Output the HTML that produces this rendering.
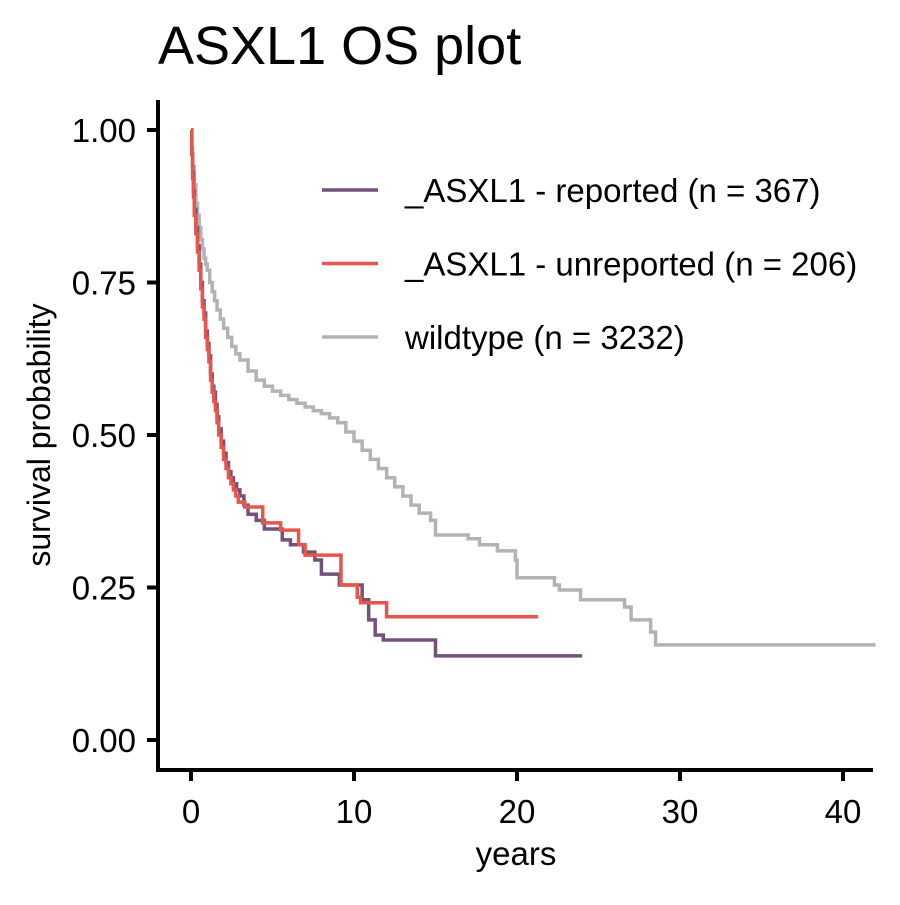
<!DOCTYPE html>
<html><head><meta charset="utf-8"><style>
body{margin:0;background:#fff}
svg text{font-family:"Liberation Sans",Arial,sans-serif}
</style></head><body>
<svg id="chart" width="900" height="900" xmlns="http://www.w3.org/2000/svg">
<rect width="900" height="900" fill="#fff"/>
<text x="158" y="64" font-size="54" fill="#000">ASXL1 OS plot</text>
<g id="axes"></g>
<g id="series"></g>
<g id="legend"></g>
</svg>
<script>
const xTicks=[0,10,20,30,40];
const yTicks=[0,0.25,0.5,0.75,1];
const yTickLabels=["0.00","0.25","0.50","0.75","1.00"];
const seriesNames=["_ASXL1 - reported (n = 367)","_ASXL1 - unreported (n = 206)","wildtype (n = 3232)"];
const reportedT=[0,0.05,0.1,0.15,0.2,0.3,0.4,0.5,0.6,0.7,0.8,0.9,1.0,1.1,1.2,1.3,1.4,1.5,1.6,1.7,1.85,2.0,2.15,2.3,2.45,2.6,2.8,3.0,3.25,3.5,4.0,4.5,5.6,6.1,6.9,7.6,8.0,9.1,10.5,10.9,11.3,11.8,15.0,24.0];
const reportedS=[1,0.96,0.93,0.9,0.87,0.84,0.81,0.78,0.75,0.72,0.7,0.67,0.65,0.63,0.6,0.58,0.57,0.55,0.53,0.51,0.49,0.47,0.455,0.44,0.43,0.42,0.41,0.40,0.385,0.37,0.36,0.346,0.328,0.32,0.308,0.295,0.272,0.254,0.23,0.197,0.172,0.164,0.138,0.138];
const unrepT=[0,0.05,0.1,0.15,0.2,0.3,0.4,0.5,0.6,0.7,0.8,0.9,1.0,1.1,1.2,1.3,1.4,1.5,1.6,1.7,1.85,2.0,2.15,2.3,2.45,2.6,2.75,2.9,3.3,4.4,5.5,6.6,7.0,9.2,10.2,10.4,12.0,21.3];
const unrepS=[1,0.96,0.92,0.89,0.86,0.83,0.8,0.77,0.74,0.71,0.69,0.66,0.64,0.62,0.59,0.57,0.555,0.54,0.52,0.5,0.48,0.46,0.445,0.43,0.42,0.41,0.40,0.39,0.382,0.356,0.344,0.32,0.303,0.254,0.234,0.225,0.202,0.202];
const wildT=[0,0.05,0.1,0.2,0.3,0.4,0.5,0.6,0.7,0.8,0.9,1,1.15,1.3,1.45,1.6,1.8,2,2.25,2.5,2.75,3,3.5,4,4.5,5,5.5,6,6.5,7,7.5,8,8.5,9,9.5,10,10.5,11,11.5,12,12.5,13,13.5,14,14.7,15,17,17.7,18.8,19.9,20,22.3,22.6,23.9,25,26.6,27,28.2,28.5,42];
const wildS=[1,0.97,0.94,0.91,0.88,0.86,0.84,0.82,0.805,0.79,0.78,0.77,0.75,0.735,0.72,0.705,0.69,0.675,0.66,0.645,0.633,0.623,0.605,0.59,0.58,0.572,0.565,0.558,0.552,0.546,0.54,0.535,0.528,0.52,0.505,0.49,0.475,0.46,0.445,0.43,0.415,0.4,0.385,0.372,0.36,0.336,0.33,0.32,0.31,0.295,0.266,0.254,0.246,0.23,0.23,0.218,0.197,0.177,0.156,0.156];
const colors=["#72527a","#e8554a","#b3b3b3"];
const NS="http://www.w3.org/2000/svg";
const X=t=>191+16.3*t, Y=s=>740-610*s;
function mk(tag,attrs,parent){const e=document.createElementNS(NS,tag);for(const k in attrs)e.setAttribute(k,attrs[k]);parent.appendChild(e);return e;}
const axes=document.getElementById('axes');
let el=mk('line',{x1:158,y1:100,x2:158,y2:772,stroke:'#000','stroke-width':4},axes);


el=mk('line',{x1:156,y1:770,x2:873,y2:770,stroke:'#000','stroke-width':4},axes);


xTicks.forEach(v=>{
  let t=mk('line',{x1:X(v),y1:770,x2:X(v),y2:781,stroke:'#000','stroke-width':4},axes);
  
  
  let l=mk('text',{x:X(v),y:823,'font-size':33,'text-anchor':'middle',fill:'#000'},axes);
  l.textContent=v;
  
  
});
yTicks.forEach((v,i)=>{
  let t=mk('line',{x1:147,y1:Y(v),x2:158,y2:Y(v),stroke:'#000','stroke-width':4},axes);
  
  
  let l=mk('text',{x:136,y:Y(v)+12,'font-size':33,'text-anchor':'end',fill:'#000'},axes);
  l.textContent=yTickLabels[i];
  
  
});
el=mk('text',{x:516,y:865,'font-size':33,'text-anchor':'middle',fill:'#000'},axes);
el.textContent='years';


el=mk('text',{x:0,y:0,'font-size':32,'text-anchor':'middle',fill:'#000',transform:'translate(50,435) rotate(-90)'},axes);
el.textContent='survival probability';


const ser=document.getElementById('series');
function stepPath(T,S){let d='M'+X(T[0])+','+Y(S[0]);for(let i=1;i<T.length;i++){d+=' H'+X(T[i])+' V'+Y(S[i]);}return d;}
[[wildT,wildS,2,'wildtype-curve'],[reportedT,reportedS,0,'reported-curve'],[unrepT,unrepS,1,'unreported-curve']].forEach(a=>{
  let p=mk('path',{d:stepPath(a[0],a[1]),fill:'none',stroke:colors[a[2]],'stroke-width':3.5},ser);
  
  
});
const leg=document.getElementById('legend');
seriesNames.forEach((n,i)=>{
  const y=190+73.5*i;
  let g=mk('g',{},leg);
  
  
  mk('line',{x1:322,y1:y,x2:378,y2:y,stroke:colors[i],'stroke-width':3.5},g);
  let t=mk('text',{x:405,y:y+12,'font-size':33,fill:'#000'},g);
  t.textContent=n;
});
</script>
</body></html>
